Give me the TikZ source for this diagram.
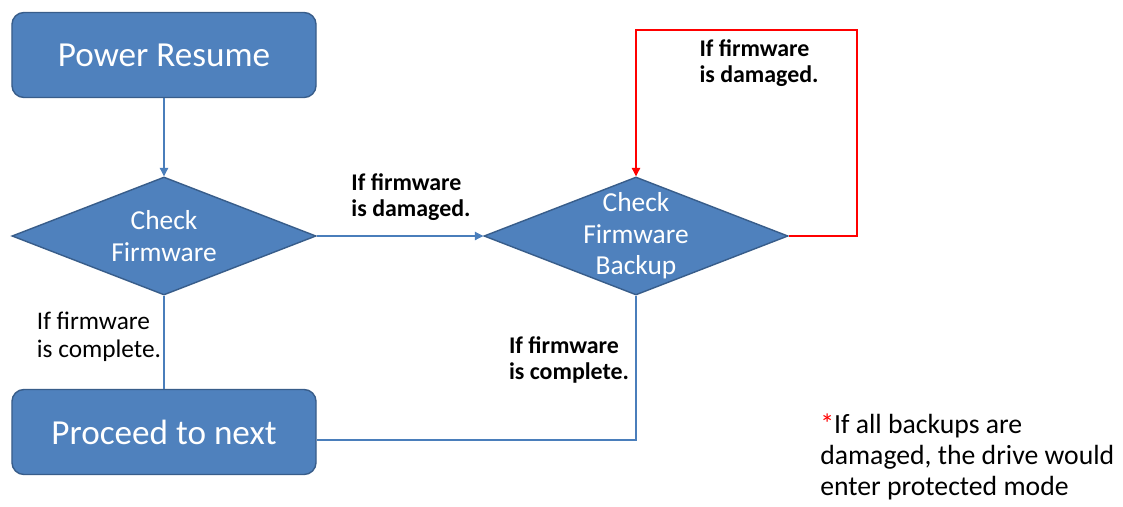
\documentclass[tikz,border=0pt]{standalone}
\usepackage{fontspec}
\setmainfont{Carlito}
\usetikzlibrary{arrows.meta, shapes.geometric}

\definecolor{boxblue}{HTML}{4F81BD}
\definecolor{boxedge}{HTML}{385D8A}
\definecolor{lineblue}{HTML}{4A7EBB}

\begin{document}
\begin{tikzpicture}[
    x=0.025cm, y=-0.025cm,
    stepbox/.style={rectangle, draw=boxedge, line width=1pt, fill=boxblue, rounded corners=0.3cm, text=white, minimum width=7.6cm, minimum height=2.125cm, font=\fontsize{25}{30}\selectfont},
    check/.style={diamond, draw=boxedge, line width=1pt, fill=boxblue, text=white, inner xsep=0pt, inner ysep=-8pt, aspect=2.58, minimum width=7.6cm, minimum height=2.95cm, align=center, font=\fontsize{19.5}{22.5}\selectfont},
    label/.style={align=left, font=\fontsize{18}{20}\selectfont},
    boldlabel/.style={align=left, font=\bfseries\fontsize{17}{18}\selectfont},
    arrow/.style={-{Triangle[width=6pt,length=6pt]}, draw=lineblue, line width=0.8pt},
    link/.style={draw=lineblue, line width=0.8pt},
    redarrow/.style={-{Triangle[width=6pt,length=6pt]}, draw=red, line width=0.8pt}
]

%Background
\useasboundingbox[fill=white] (0,0) rectangle (1123,506);

% Boxes
\node[stepbox] (power) at (164,55) {Power Resume};
\node[stepbox] (proceed) at (164,432) {Proceed to next};

% Decisions
\node[check] (check_fw) at (164,236) {Check\\Firmware};
\node[check] (check_backup) at (636,236) {Check\\Firmware\\Backup};

% Labels
\node[boldlabel] (damaged_1) at (411,197) {If firmware\\is damaged.};
\node[boldlabel] (damaged_2) at (759,63) {If firmware\\is damaged.};
\node[label] (complete_1) at (99,337) {If firmware\\is complete.};
\node[boldlabel] (complete_2) at (569,360) {If firmware\\is complete.};

% Note
\node[align=left, anchor=north west, inner sep=0pt, font=\fontsize{19.7}{22}\selectfont] (note) at (820,414) {{\color{red}*}If all backups are\\damaged, the drive would\\enter protected mode};

% Corners of the connectors
\coordinate (loop_right) at (857,30);
\coordinate (loop_left) at (check_backup.north |- loop_right);
\coordinate (join) at (check_backup.south |- 0,440);

% Arrows
\draw[arrow] (power) -- (check_fw);
\draw[arrow] (check_fw.east) -- (check_backup.west);
\draw[link] (check_fw.south) -- (proceed.north);
\draw[link] (check_backup.south) -- (join) -- (proceed.east |- join);
\draw[redarrow] (check_backup.east) -| (loop_right) -- (loop_left) -- (check_backup.north);

\end{tikzpicture}
\end{document}
